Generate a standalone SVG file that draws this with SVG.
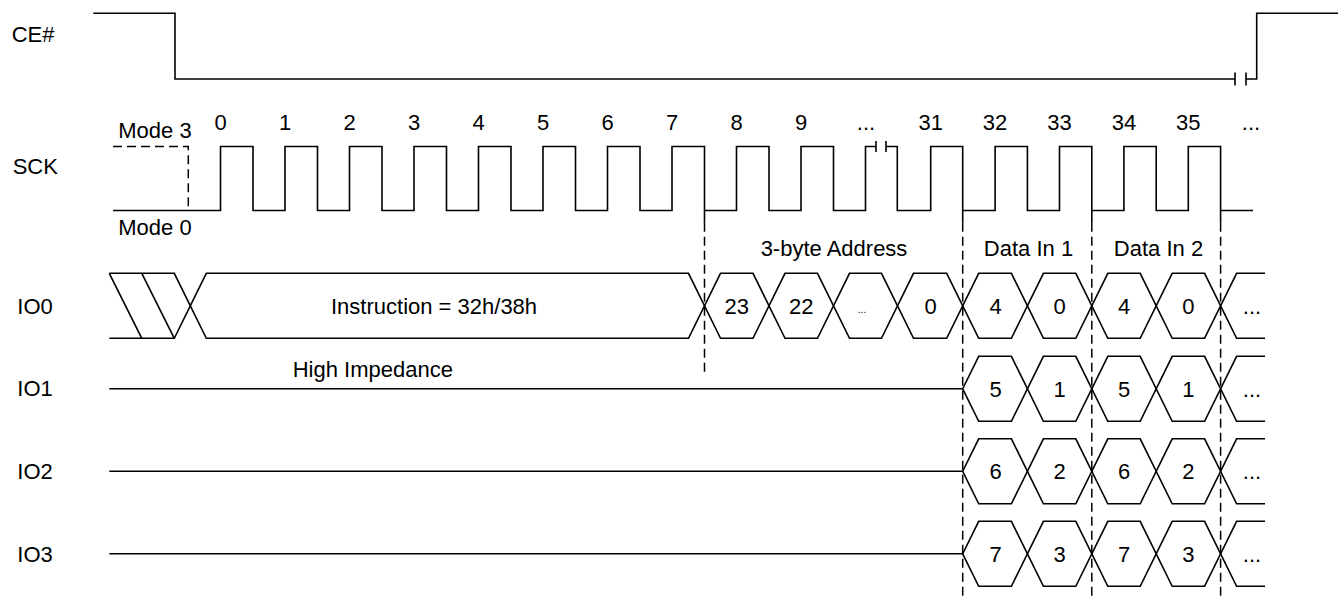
<svg xmlns="http://www.w3.org/2000/svg" xmlns:xlink="http://www.w3.org/1999/xlink" width="1341" height="598" viewBox="0 0 1341 598">
<style>
.w{fill:none;stroke:#000;stroke-width:1.6;stroke-linejoin:miter;stroke-linecap:butt}
.d{fill:none;stroke:#000;stroke-width:1.5;stroke-dasharray:9,5}
text{font-family:"Liberation Sans",Arial,sans-serif;font-size:22px;fill:#000}
.m{text-anchor:middle}
.s{font-size:10px}
</style>
<defs>
<g id="dataRow">
<path class="w" d="M109.3,0 H962.7 L978.7,-32.5 H1011.4 L1043.4,32.5 H1075.8 L1107.8,-32.5 H1140.2 L1172.2,32.5 H1204.6 L1236.6,-32.5 H1265"/>
<path class="w" d="M962.7,0 L978.7,32.5 H1011.4 L1043.4,-32.5 H1075.8 L1107.8,32.5 H1140.2 L1172.2,-32.5 H1204.6 L1236.6,32.5 H1265"/>
</g>
</defs>
<rect width="1341" height="598" fill="#fff"/>

<g id="labels">
<text x="11.7" y="41.7">CE#</text>
<text x="12.7" y="174">SCK</text>
<text x="17.3" y="313.5">IO0</text>
<text x="17.3" y="395.5">IO1</text>
<text x="17.3" y="479">IO2</text>
<text x="17.3" y="561.5">IO3</text>
</g>

<g id="ce">
<path class="w" d="M93.3,13.3 H175 V79 H1235 M1235,72.5 V85.5 M1246,72.5 V85.5 M1246,79 H1256.7 V13.3 H1338"/>
</g>

<g id="sck">
<path class="d" d="M113,146.5 H188.3 V210.5"/>
<path class="w" d="M113,210.5 H220.5 V146.5 H253 V210.5 H285 V146.5 H317.5 V210.5 H349.5 V146.5 H382 V210.5 H414 V146.5 H446.5 V210.5 H478.5 V146.5 H511 V210.5 H543 V146.5 H575.5 V210.5 H607.5 V146.5 H640 V210.5 H672 V146.5 H704.5 V210.5 H736.5 V146.5 H769 V210.5 H801 V146.5 H833.5 V210.5 H865.5 V146.5 H876 M876,141 V152 M886,141 V152 M886,146.5 H897.3 V210.5 H930.7 V146.5 H962.7 V210.5 H995.1 V146.5 H1027.4 V210.5 H1059.5 V146.5 H1091.8 V210.5 H1123.9 V146.5 H1156.2 V210.5 H1188.3 V146.5 H1220.6 V210.5 H1253"/>
<path class="w" d="M704.5,210.5 V222.7 M962.7,210.5 V222.7 M1091.8,210.5 V222.7 M1220.6,210.5 V222.7"/>
<text x="118.3" y="138.3">Mode 3</text>
<text x="118.3" y="235">Mode 0</text>
<g class="m">
<text class="m" x="220.5" y="130">0</text>
<text class="m" x="285" y="130">1</text>
<text class="m" x="349.5" y="130">2</text>
<text class="m" x="414" y="130">3</text>
<text class="m" x="478.5" y="130">4</text>
<text class="m" x="543" y="130">5</text>
<text class="m" x="607.5" y="130">6</text>
<text class="m" x="672" y="130">7</text>
<text class="m" x="736.5" y="130">8</text>
<text class="m" x="801" y="130">9</text>
<text class="m" x="866" y="130">...</text>
<text class="m" x="930.7" y="130">31</text>
<text class="m" x="995.1" y="130">32</text>
<text class="m" x="1059.5" y="130">33</text>
<text class="m" x="1123.9" y="130">34</text>
<text class="m" x="1188.3" y="130">35</text>
<text class="m" x="1251" y="130">...</text>
</g>
</g>

<g id="connectors">
<path class="d" d="M704.5,222.7 V373 M962.7,222.7 V598 M1091.8,222.7 V598 M1220.6,222.7 V598"/>
<text class="m" x="834" y="256">3-byte Address</text>
<text class="m" x="1028.5" y="256">Data In 1</text>
<text class="m" x="1158.5" y="256">Data In 2</text>
</g>

<g id="io0" transform="translate(0,305.8)">
<path class="w" d="M109.3,-32.5 H174.3 L206.3,32.5 H688.5 L720.5,-32.5 H753 L785,32.5 H817.5 L849.5,-32.5 H881.5 L913.5,32.5 H946.7 L978.7,-32.5 H1011.4 L1043.4,32.5 H1075.8 L1107.8,-32.5 H1140.2 L1172.2,32.5 H1204.6 L1236.6,-32.5 H1265"/>
<path class="w" d="M109.3,32.5 H174.3 L206.3,-32.5 H688.5 L720.5,32.5 H753 L785,-32.5 H817.5 L849.5,32.5 H881.5 L913.5,-32.5 H946.7 L978.7,32.5 H1011.4 L1043.4,-32.5 H1075.8 L1107.8,32.5 H1140.2 L1172.2,-32.5 H1204.6 L1236.6,32.5 H1265"/>
<path class="w" d="M109.3,-32.5 L141.8,32.5 M141.8,-32.5 L174.3,32.5"/>
<text x="331" y="8">Instruction = 32h/38h</text>
<text class="m" x="736.7" y="8">23</text>
<text class="m" x="801.2" y="8">22</text>
<text class="m s" x="862" y="7.5">...</text>
<text class="m" x="930.5" y="8">0</text>
<text class="m" x="995.5" y="8">4</text>
<text class="m" x="1059.6" y="8">0</text>
<text class="m" x="1124" y="8">4</text>
<text class="m" x="1188.4" y="8">0</text>
<text class="m" x="1252" y="8">...</text>
</g>

<g id="io1" transform="translate(0,388.8)">
<use xlink:href="#dataRow"/>
<text x="292.7" y="-11.5">High Impedance</text>
<text class="m" x="995.5" y="8">5</text>
<text class="m" x="1059.6" y="8">1</text>
<text class="m" x="1124" y="8">5</text>
<text class="m" x="1188.4" y="8">1</text>
<text class="m" x="1252" y="8">...</text>
</g>

<g id="io2" transform="translate(0,471.3)">
<use xlink:href="#dataRow"/>
<text class="m" x="995.5" y="8">6</text>
<text class="m" x="1059.6" y="8">2</text>
<text class="m" x="1124" y="8">6</text>
<text class="m" x="1188.4" y="8">2</text>
<text class="m" x="1252" y="8">...</text>
</g>

<g id="io3" transform="translate(0,553.8)">
<use xlink:href="#dataRow"/>
<text class="m" x="995.5" y="8">7</text>
<text class="m" x="1059.6" y="8">3</text>
<text class="m" x="1124" y="8">7</text>
<text class="m" x="1188.4" y="8">3</text>
<text class="m" x="1252" y="8">...</text>
</g>
</svg>
